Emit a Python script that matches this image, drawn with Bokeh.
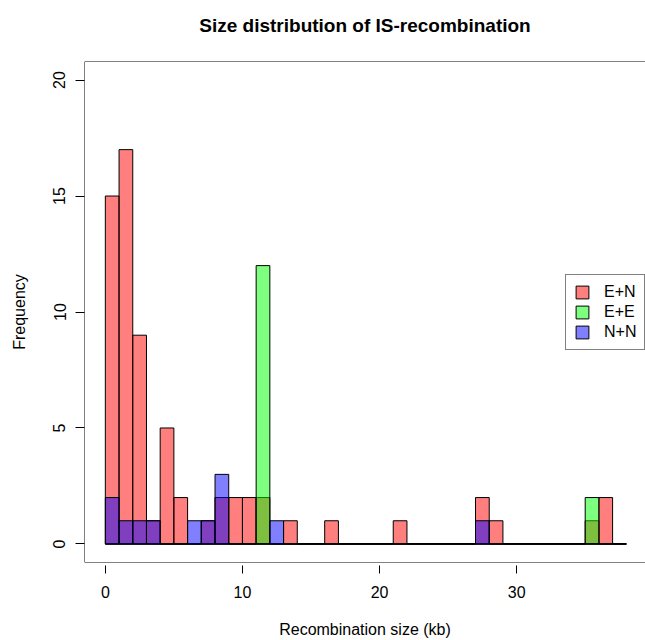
from bokeh.plotting import figure
from bokeh.models import Range1d, FixedTicker, Span, Legend, LegendItem
from bokeh.embed import file_html
from bokeh.resources import INLINE

# ---- data (histogram, 1 kb bins from 0 to 38) ----
bin_edges = list(range(0, 39))
en_counts = [15, 17, 9, 1, 5, 2, 0, 1, 2, 2,
             2, 2, 0, 1, 0, 0, 1, 0, 0, 0,
             0, 1, 0, 0, 0, 0, 0, 2, 1, 0,
             0, 0, 0, 0, 0, 1, 2, 0]
ee_counts = [0, 0, 0, 0, 0, 0, 0, 0, 0, 0,
             0, 12, 0, 0, 0, 0, 0, 0, 0, 0,
             0, 0, 0, 0, 0, 0, 0, 0, 0, 0,
             0, 0, 0, 0, 0, 2, 0, 0]
nn_counts = [2, 1, 1, 1, 0, 0, 1, 1, 3, 0,
             0, 0, 1, 0, 0, 0, 0, 0, 0, 0,
             0, 0, 0, 0, 0, 0, 0, 1, 0, 0,
             0, 0, 0, 0, 0, 0, 0, 0]
series_labels = ["E+N", "E+E", "N+N"]
series_colors = ["red", "lime", "blue"]
x_ticks = [0, 10, 20, 30]
y_ticks = [0, 5, 10, 15, 20]
xlim = (0, 38)
ylim = (0, 20)
title_text = "Size distribution of IS-recombination"

FONT = "Liberation Sans"

W, H = 645, 640
left_b, top_b, bottom_b = 84, 61, 77
frame_w = W - left_b

# R style 4% range extension; right side cropped by the canvas edge
x_ext = 0.04 * (xlim[1] - xlim[0])
y_ext = 0.04 * (ylim[1] - ylim[0])
x_start = xlim[0] - x_ext
x_end = x_start + frame_w / 13.71

p = figure(width=W, height=H, output_backend="svg", toolbar_location=None,
           x_range=Range1d(x_start, x_end),
           y_range=Range1d(ylim[0] - y_ext, ylim[1] + y_ext),
           min_border_left=left_b, min_border_right=0,
           min_border_top=top_b, min_border_bottom=bottom_b)
p.outline_line_color = None
p.background_fill_color = "white"
p.border_fill_color = "white"
p.grid.visible = False

renderers = []
for counts, col in zip([en_counts, ee_counts, nn_counts], series_colors):
    r = p.quad(left=bin_edges[:-1], right=bin_edges[1:], bottom=0, top=counts,
               fill_color=col, fill_alpha=0.5, line_color="black", line_width=1)
    renderers.append(r)

# box (top, bottom, left edges; right edge lies outside the canvas)
for loc, dim in [(ylim[0] - y_ext, "width"), (ylim[1] + y_ext, "width"), (x_start, "height")]:
    p.add_layout(Span(location=loc, dimension=dim, line_color="black", line_width=1))

# title (a trailing blank line lifts it further above the frame)
p.title.text = title_text + "\n "
p.title.align = "center"
p.title.vertical_align = "bottom"
p.title.text_font = FONT
p.title.text_font_size = "19px"
p.title.text_font_style = "bold"
p.title.text_color = "black"
p.title.standoff = 10

# axes
p.xaxis.ticker = FixedTicker(ticks=x_ticks)
p.yaxis.ticker = FixedTicker(ticks=y_ticks)
for ax in (p.xaxis, p.yaxis):
    ax.axis_line_color = None
    ax.major_tick_line_color = "black"
    ax.minor_tick_line_color = None
    ax.major_label_text_font = FONT
    ax.major_label_text_font_size = "16px"
    ax.major_label_text_color = "black"
    ax.axis_label_text_font = FONT
    ax.axis_label_text_font_size = "16px"
    ax.axis_label_text_font_style = "normal"
    ax.axis_label_text_color = "black"

p.xaxis.axis_label = "Recombination size (kb)"
p.xaxis.major_tick_in = -3
p.xaxis.major_tick_out = 11
p.xaxis.major_label_standoff = 12
p.xaxis.axis_label_standoff = 20

p.yaxis.axis_label = "Frequency"
p.yaxis.major_tick_in = 0
p.yaxis.major_tick_out = 9
p.yaxis.major_label_standoff = 10
p.yaxis.major_label_orientation = "vertical"
p.yaxis.axis_label_standoff = 23

legend = Legend(items=[LegendItem(label=lab, renderers=[r])
                       for lab, r in zip(series_labels, renderers)],
                location=(481, 212), margin=0, padding=8, spacing=2,
                glyph_width=16, glyph_height=16, label_standoff=14, label_height=18,
                border_line_color="black", border_line_width=1,
                background_fill_color="white", background_fill_alpha=1.0,
                label_text_font=FONT, label_text_font_size="16px",
                label_text_color="black")
p.add_layout(legend)

open("out.html", "w").write(file_html(p, INLINE))
